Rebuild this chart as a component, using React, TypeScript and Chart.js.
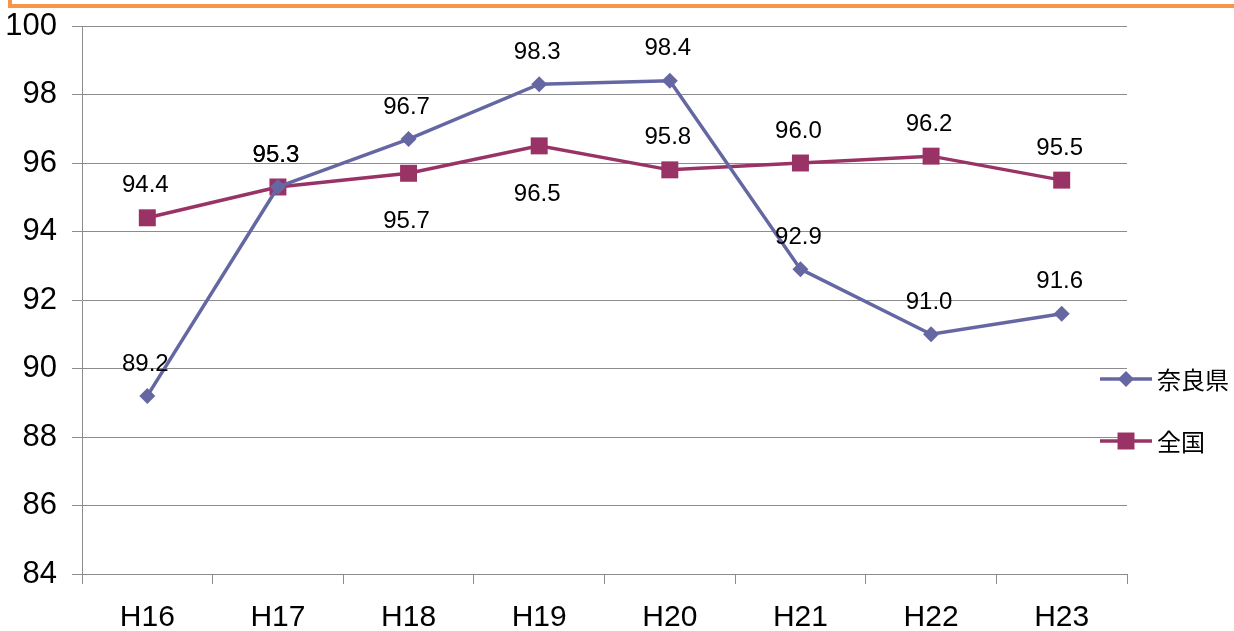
import React, { useEffect, useRef } from "react";
import { Chart, registerables } from "chart.js";

Chart.register(...registerables);

// Fiscal years (Heisei era)
const years = ["H16", "H17", "H18", "H19", "H20", "H21", "H22", "H23"];
// Nara Prefecture
const naraValues = [89.2, 95.3, 96.7, 98.3, 98.4, 92.9, 91.0, 91.6];
// National average
const zenkokuValues = [94.4, 95.3, 95.7, 96.5, 95.8, 96.0, 96.2, 95.5];
// Where each value label sits relative to its point
const naraLabelSide = ["above", "above", "above", "above", "above", "above", "above", "above"];
const zenkokuLabelSide = ["above", "above", "below", "below", "above", "above", "above", "above"];
// Y axis range
const yMin = 84;
const yMax = 100;
const yStep = 2;

const NARA_COLOR = "#6567A3";
const ZENKOKU_COLOR = "#993366";
const TEXT_FONT = "'Liberation Sans', Arial, sans-serif";
const CJK_FONT = "'Noto Sans CJK JP', sans-serif";

function drawMarker(ctx: CanvasRenderingContext2D, style: string, r: number, x: number, y: number) {
  ctx.beginPath();
  if (style === "rectRot") {
    ctx.moveTo(x - r, y);
    ctx.lineTo(x, y - r);
    ctx.lineTo(x + r, y);
    ctx.lineTo(x, y + r);
    ctx.closePath();
  } else {
    const s = Math.SQRT1_2 * r;
    ctx.rect(x - s, y - s, 2 * s, 2 * s);
  }
  ctx.fill();
}

const valueLabels = {
  id: "valueLabels",
  afterDatasetsDraw(chart: any) {
    const ctx = chart.ctx;
    const sides = [naraLabelSide, zenkokuLabelSide];
    ctx.save();
    ctx.font = `24px ${TEXT_FONT}`;
    ctx.fillStyle = "#000";
    ctx.textAlign = "center";
    ctx.textBaseline = "middle";
    chart.data.datasets.forEach((ds: any, di: number) => {
      const meta = chart.getDatasetMeta(di);
      meta.data.forEach((pt: any, i: number) => {
        const v = ds.data[i] as number;
        const dy = sides[di][i] === "below" ? 48 : -32;
        ctx.fillText(v.toFixed(1), pt.x - 2, pt.y + dy);
      });
    });
    ctx.restore();
  },
};

const sideLegend = {
  id: "sideLegend",
  afterDraw(chart: any) {
    const ctx = chart.ctx;
    const x0 = 1100;
    const x1 = 1152;
    const rows = [379, 441];
    ctx.save();
    chart.data.datasets.forEach((ds: any, di: number) => {
      const y = rows[di];
      ctx.strokeStyle = ds.borderColor;
      ctx.lineWidth = ds.borderWidth;
      ctx.beginPath();
      ctx.moveTo(x0, y);
      ctx.lineTo(x1, y);
      ctx.stroke();
      ctx.fillStyle = ds.backgroundColor;
      drawMarker(ctx, ds.pointStyle, ds.pointRadius, (x0 + x1) / 2, y);
      ctx.fillStyle = "#000";
      ctx.font = `24px ${CJK_FONT}`;
      ctx.textAlign = "left";
      ctx.textBaseline = "middle";
      ctx.fillText(ds.label, 1157, y + 1);
    });
    ctx.restore();
  },
};

export default function App() {
  const canvasRef = useRef<HTMLCanvasElement | null>(null);

  useEffect(() => {
    if (!canvasRef.current) return;
    const chart = new Chart(canvasRef.current, {
      type: "line",
      data: {
        labels: years,
        datasets: [
          {
            label: "奈良県",
            data: naraValues,
            borderColor: NARA_COLOR,
            backgroundColor: NARA_COLOR,
            borderWidth: 3.5,
            pointStyle: "rectRot",
            pointRadius: 8,
            pointBorderWidth: 0,
            tension: 0,
          },
          {
            label: "全国",
            data: zenkokuValues,
            borderColor: ZENKOKU_COLOR,
            backgroundColor: ZENKOKU_COLOR,
            borderWidth: 3.5,
            pointStyle: "rect",
            pointRadius: 12,
            pointBorderWidth: 0,
            tension: 0,
          },
        ],
      },
      options: {
        animation: false,
        responsive: false,
        maintainAspectRatio: false,
        layout: { padding: { top: 26, right: 107, left: 0, bottom: 0 } },
        plugins: {
          legend: { display: false },
          tooltip: { enabled: false },
        },
        scales: {
          x: {
            offset: true,
            grid: {
              offset: true,
              drawOnChartArea: false,
              drawTicks: true,
              tickLength: 10,
              color: "#8c8c8c",
            },
            border: { display: true, color: "#8c8c8c" },
            ticks: {
              color: "#000",
              font: { family: TEXT_FONT, size: 30 },
              padding: 16,
              maxRotation: 0,
            },
            afterFit(scale: any) {
              scale.height = 57;
              scale.paddingLeft = 0;
              scale.paddingRight = 0;
            },
          },
          y: {
            min: yMin,
            max: yMax,
            ticks: {
              stepSize: yStep,
              color: "#000",
              font: { family: TEXT_FONT, size: 31 },
              padding: 15,
            },
            grid: {
              color: "#8c8c8c",
              tickLength: 10,
            },
            border: { display: true, color: "#8c8c8c" },
            afterFit(scale: any) {
              scale.width = 82;
              scale.paddingTop = 0;
              scale.paddingBottom = 0;
            },
          },
        },
      },
      plugins: [valueLabels, sideLegend],
    });
    return () => chart.destroy();
  }, []);

  return (
    <div style={{ position: "fixed", left: 0, top: 0, width: 1234, height: 631, background: "#fff", overflow: "hidden" }}>
      <div
        style={{
          position: "absolute",
          left: 8,
          top: -10,
          width: 1250,
          height: 14,
          borderLeft: "4px solid #F79646",
          borderBottom: "4px solid #F79646",
        }}
      />
      <canvas ref={canvasRef} width={1234} height={631} style={{ position: "absolute", left: 0, top: 0 }} />
    </div>
  );
}
